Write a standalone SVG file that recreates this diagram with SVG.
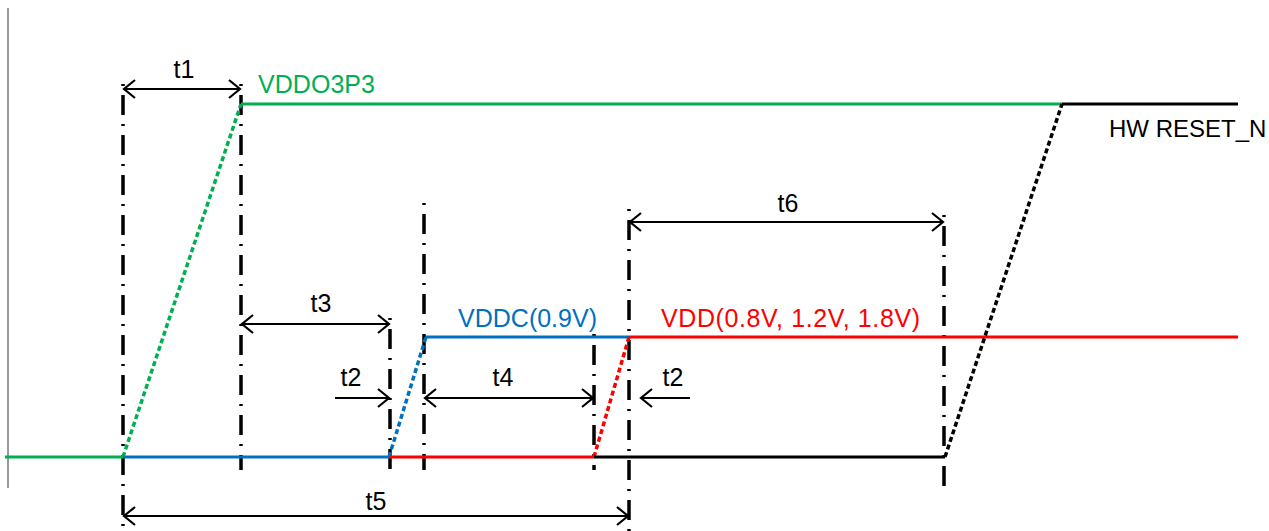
<svg xmlns="http://www.w3.org/2000/svg" width="1269" height="531" viewBox="0 0 1269 531">
  <style>
    .axis { stroke: #999; stroke-width: 2; fill: none; }
    .sig { stroke-width: 3; fill: none; }
    .ramp { stroke-width: 3.5; fill: none; stroke-dasharray: 5 3; }
    .green { stroke: #00b050; }
    .blue { stroke: #0070c0; }
    .red { stroke: #ff0000; }
    .black { stroke: #000; }
    .guide { stroke: #000; stroke-width: 3.5; fill: none; stroke-dasharray: 2 9 20 9; }
    .dim { stroke: #000; stroke-width: 2.2; fill: none; }
    text { font-family: "Liberation Sans", Arial, sans-serif; font-size: 25px; }
    .lbl { fill: #000; text-anchor: middle; }
  </style>
  <defs>
    <marker id="head" markerUnits="userSpaceOnUse" markerWidth="24" markerHeight="24" viewBox="-14 -12 16 24" refX="0" refY="0" orient="auto-start-reverse">
      <path d="M-11,-9 L0,0 L-11,9" fill="none" stroke="#000" stroke-width="2.2"/>
    </marker>
  </defs>

  <!-- vertical axis -->
  <line class="axis" x1="8" y1="8" x2="8" y2="488"/>

  <!-- guide lines -->
  <g id="guides">
    <line class="guide" x1="123" y1="84" x2="123" y2="531"/>
    <line class="guide" x1="241" y1="84" x2="241" y2="470"/>
    <line class="guide" x1="390" y1="318" x2="390" y2="470"/>
    <line class="guide" x1="424" y1="203" x2="424" y2="470"/>
    <line class="guide" x1="594" y1="334" x2="594" y2="470"/>
    <line class="guide" x1="629" y1="209" x2="629" y2="531"/>
    <line class="guide" x1="944" y1="215" x2="944" y2="490"/>
  </g>

  <!-- VDDO3P3 -->
  <g id="vddo3p3">
    <line class="sig green" x1="5" y1="457" x2="123" y2="457"/>
    <line class="ramp green" x1="123" y1="457" x2="241" y2="104"/>
    <line class="sig green" x1="241" y1="104" x2="1062" y2="104"/>
    <text x="258" y="93" fill="#00b050" textLength="117">VDDO3P3</text>
  </g>

  <!-- VDDC -->
  <g id="vddc">
    <line class="sig blue" x1="123" y1="457" x2="389" y2="457"/>
    <line class="ramp blue" x1="389" y1="457" x2="426" y2="337"/>
    <line class="sig blue" x1="426" y1="337" x2="629" y2="337"/>
    <text x="458" y="327" fill="#0070c0" textLength="139">VDDC(0.9V)</text>
  </g>

  <!-- VDD -->
  <g id="vdd">
    <line class="sig red" x1="389" y1="457" x2="594" y2="457"/>
    <line class="ramp red" x1="594" y1="457" x2="629" y2="337"/>
    <line class="sig red" x1="629" y1="337" x2="1238" y2="337"/>
    <text x="661" y="327" fill="#ff0000" textLength="259">VDD(0.8V, 1.2V, 1.8V)</text>
  </g>

  <!-- HW RESET_N -->
  <g id="hw-reset-n">
    <line class="sig black" x1="594" y1="457" x2="945" y2="457"/>
    <line class="ramp black" x1="945" y1="457" x2="1062" y2="104"/>
    <line class="sig black" x1="1062" y1="104" x2="1238" y2="104"/>
    <text x="1109" y="137" fill="#000" style="font-size:24px">HW RESET_N</text>
  </g>

  <!-- timing dimensions -->
  <g id="connectors">
    <line class="dim" x1="124" y1="89" x2="240" y2="89" marker-start="url(#head)" marker-end="url(#head)"/>
    <line class="dim" x1="242" y1="324" x2="389" y2="324" marker-start="url(#head)" marker-end="url(#head)"/>
    <line class="dim" x1="335" y1="398" x2="389" y2="398" marker-end="url(#head)"/>
    <line class="dim" x1="425" y1="398" x2="593" y2="398" marker-start="url(#head)" marker-end="url(#head)"/>
    <line class="dim" x1="690" y1="398" x2="641" y2="398" marker-end="url(#head)"/>
    <line class="dim" x1="124" y1="516" x2="628" y2="516" marker-start="url(#head)" marker-end="url(#head)"/>
    <line class="dim" x1="630" y1="222" x2="943" y2="222" marker-start="url(#head)" marker-end="url(#head)"/>
  </g>

  <g id="labels">
    <text class="lbl" x="184" y="78">t1</text>
    <text class="lbl" x="321" y="312">t3</text>
    <text class="lbl" x="351" y="386">t2</text>
    <text class="lbl" x="503" y="386">t4</text>
    <text class="lbl" x="673" y="386">t2</text>
    <text class="lbl" x="376" y="510">t5</text>
    <text class="lbl" x="788" y="212">t6</text>
  </g>
</svg>
